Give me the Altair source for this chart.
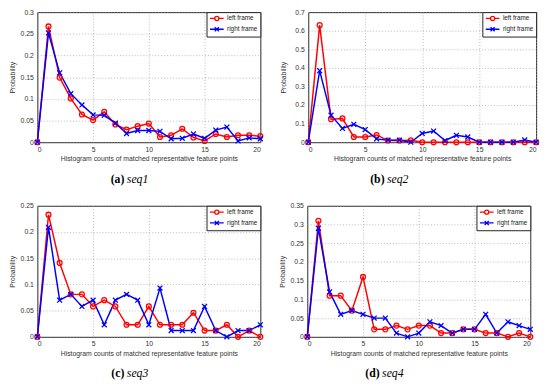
import altair as alt
import pandas as pd

x_vals = list(range(21))
series_names = ["left frame", "right frame"]

seq1_left = [0, 0.267, 0.149, 0.101, 0.064, 0.051, 0.070, 0.041, 0.029, 0.037, 0.043,
             0.012, 0.016, 0.031, 0.011, 0.003, 0.019, 0.012, 0.016, 0.016, 0.014]
seq1_right = [0, 0.252, 0.160, 0.112, 0.086, 0.063, 0.062, 0.044, 0.020, 0.027, 0.027,
              0.025, 0.008, 0.009, 0.019, 0.009, 0.028, 0.035, 0.003, 0.010, 0.008]
seq2_left = [0, 0.630, 0.124, 0.128, 0.028, 0.028, 0.039, 0.009, 0.009, 0.010, 0,
             0, 0, 0, 0, 0, 0, 0, 0, 0, 0]
seq2_right = [0, 0.385, 0.145, 0.074, 0.096, 0.068, 0.018, 0.011, 0.011, 0, 0.047,
              0.060, 0.009, 0.037, 0.028, 0, 0, 0, 0, 0.012, 0]
seq3_left = [0, 0.233, 0.141, 0.081, 0.081, 0.058, 0.070, 0.058, 0.023, 0.023, 0.058,
             0.023, 0.023, 0.023, 0.046, 0.012, 0.012, 0.023, 0, 0.012, 0]
seq3_right = [0, 0.209, 0.070, 0.081, 0.058, 0.070, 0.023, 0.070, 0.081, 0.070, 0.023,
              0.093, 0.012, 0.012, 0.012, 0.058, 0.012, 0, 0.012, 0.012, 0.023]
seq4_left = [0, 0.31, 0.11, 0.11, 0.07, 0.16, 0.02, 0.02, 0.03, 0.02, 0.03,
             0.03, 0.01, 0.01, 0.02, 0.02, 0.01, 0.01, 0, 0.01, 0]
seq4_right = [0, 0.29, 0.12, 0.06, 0.07, 0.06, 0.05, 0.05, 0.01, 0, 0.01,
              0.04, 0.03, 0.01, 0.02, 0.02, 0.06, 0.01, 0.04, 0.03, 0.02]

y_max = [0.3, 0.7, 0.25, 0.35]
y_step = [0.05, 0.1, 0.05, 0.05]
cap_letters = ["(a)", "(b)", "(c)", "(d)"]
cap_names = ["seq1", "seq2", "seq3", "seq4"]

RED = "#ff0000"
BLUE = "#0000ff"
X_PATH = "M-1,-1L1,1M1,-1L-1,1"
LEG_LEFT = "M-2,0L-0.6,0M2,0L0.6,0M0.6,0A0.6,0.6 0 1 1 -0.6,0A0.6,0.6 0 1 1 0.6,0"
LEG_RIGHT = "M-2,0L2,0M-0.6,-0.6L0.6,0.6M0.6,-0.6L-0.6,0.6"
FONT = "Liberation Sans"


def make_df(left, right):
    rows = []
    for name, vals in zip(series_names, [left, right]):
        for x, v in zip(x_vals, vals):
            rows.append({"x": x, "p": v, "series": name})
    return pd.DataFrame(rows)


def panel(i, left, right, w, h, extent, cap_split):
    df = make_df(left, right)
    ymax = y_max[i]
    step = y_step[i]
    n = int(round(ymax / step))
    yvals = [round(k * step, 4) for k in range(n + 1)]
    xs = alt.Scale(domain=[0, 20], nice=False)
    ys = alt.Scale(domain=[0, ymax], nice=False)
    xaxis = alt.Axis(values=[0, 5, 10, 15, 20],
                     title="Histogram counts of matched representative feature points",
                     labelPadding=3, titlePadding=3)
    yaxis = alt.Axis(values=yvals, format="~g", title="Probability",
                     minExtent=extent, maxExtent=extent, titlePadding=2.5, labelPadding=4)
    base = alt.Chart(df)
    X = alt.X("x:Q", scale=xs, axis=xaxis)
    Y = alt.Y("p:Q", scale=ys, axis=yaxis)
    leg = alt.Legend(orient="top-right", offset=0, title=None, fillColor="white",
                     strokeColor="#222", padding=2, labelFont=FONT, labelFontSize=6.5,
                     labelColor="#222", symbolSize=49, symbolOffset=4, labelOffset=6,
                     rowPadding=0, symbolStrokeWidth=1.3, symbolOpacity=1,
                     symbolFillColor="transparent")
    ghost = base.mark_point(filled=False, opacity=0).encode(
        x=X, y=Y,
        color=alt.Color("series:N", scale=alt.Scale(domain=series_names, range=[RED, BLUE]), legend=leg),
        shape=alt.Shape("series:N", scale=alt.Scale(domain=series_names, range=[LEG_LEFT, LEG_RIGHT]), legend=leg),
    )
    l_line = base.transform_filter(alt.datum.series == "left frame").mark_line(
        color=RED, strokeWidth=1.5).encode(x=X, y=Y)
    r_line = base.transform_filter(alt.datum.series == "right frame").mark_line(
        color=BLUE, strokeWidth=1.5).encode(x=X, y=Y)
    l_pts = base.transform_filter(alt.datum.series == "left frame").mark_point(
        shape="circle", color=RED, filled=False, size=25, strokeWidth=1.3, opacity=1).encode(x=X, y=Y)
    r_pts = base.transform_filter(alt.datum.series == "right frame").mark_point(
        shape=X_PATH, color=BLUE, filled=False, size=25, strokeWidth=1.3, opacity=1).encode(x=X, y=Y)
    cap1 = alt.Chart(pd.DataFrame({"t": [cap_letters[i]]})).mark_text(
        align="right", baseline="middle", font="Liberation Serif", fontSize=12, fontWeight="bold",
        color="#000").encode(x=alt.value(cap_split - 1), y=alt.value(h + 37.5), text="t:N")
    cap2 = alt.Chart(pd.DataFrame({"t": [cap_names[i]]})).mark_text(
        align="left", baseline="middle", font="Liberation Serif", fontSize=12, fontStyle="italic",
        color="#000").encode(x=alt.value(cap_split + 1.5), y=alt.value(h + 37.5), text="t:N")
    return alt.layer(ghost, l_line, r_line, l_pts, r_pts, cap1, cap2).properties(width=w, height=h)


pa = panel(0, seq1_left, seq1_right, 228, 133, 20, 90)
pb = panel(1, seq2_left, seq2_right, 233, 133, 20, 79)
pc = panel(2, seq3_left, seq3_right, 228, 134, 20, 90)
pd_ = panel(3, seq4_left, seq4_right, 228, 134, 20, 75)

row1 = alt.hconcat(pa, pb, spacing=13).resolve_scale(color="independent", shape="independent")
row2 = alt.hconcat(pc, pd_, spacing=12).resolve_scale(color="independent", shape="independent")

chart = alt.vconcat(row1, row2, spacing=16).resolve_scale(
    color="independent", shape="independent"
).properties(padding={"top": -5, "left": 0, "right": 0, "bottom": 0}).configure_view(
    stroke="#222", strokeWidth=1
).configure_axis(
    domain=False, ticks=False, grid=True, gridDash=[1, 2], gridColor="#999", gridWidth=0.7,
    labelFont=FONT, labelFontSize=7, labelColor="#333",
    titleFont=FONT, titleFontSize=7, titleColor="#333", titleFontWeight="normal"
)

chart.save("out.html", embed_options={"renderer": "svg", "actions": False})
